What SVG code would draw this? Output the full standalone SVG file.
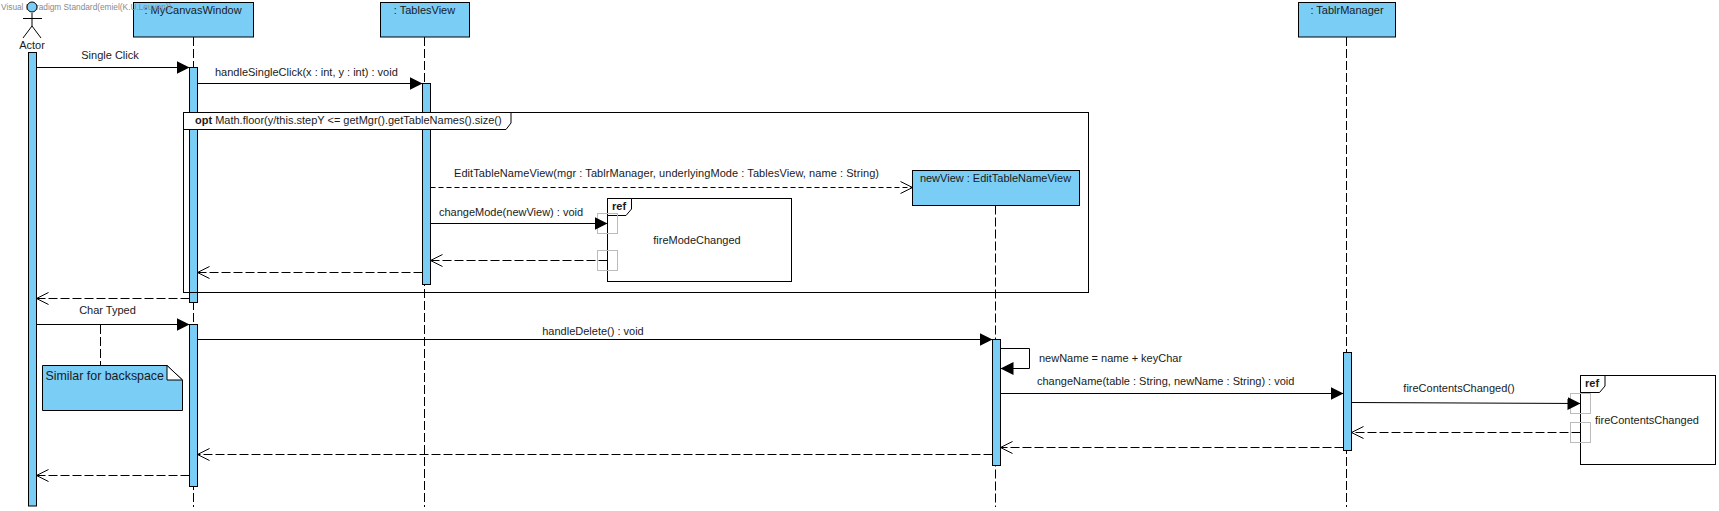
<svg xmlns="http://www.w3.org/2000/svg" width="1719" height="511" viewBox="0 0 1719 511">
<style>
text{font-family:"Liberation Sans",Arial,sans-serif;font-size:11px;fill:#1a1a1a}
.m{text-anchor:middle}
.b{font-weight:bold}
.box,.act{fill:#7acdf5;stroke:#000;stroke-width:1}
.life{stroke:#000;stroke-width:1;stroke-dasharray:9 3;fill:none}
.call{stroke:#000;stroke-width:1;fill:none;marker-end:url(#filled)}
.ret{stroke:#000;stroke-width:1;stroke-dasharray:9 3;fill:none;marker-end:url(#open)}
.frame{fill:none;stroke:#000;stroke-width:1}
.hdr{fill:#fff;stroke:#000;stroke-width:1}
.port{fill:none;stroke:#bbb;stroke-width:1}
.ln{fill:none;stroke:#000;stroke-width:1}
</style>
<defs>
<marker id="filled" markerUnits="userSpaceOnUse" markerWidth="14" markerHeight="16" refX="13" refY="8" orient="auto"><path d="M0 1.500L13 8L0 14.500Z" fill="#000"/></marker>
<marker id="open" markerUnits="userSpaceOnUse" markerWidth="14" markerHeight="14" refX="13" refY="7" orient="auto"><path d="M1 1L13 7L1 13" fill="none" stroke="#000" stroke-width="1"/></marker>
</defs>
<rect width="1719" height="511" fill="#fff"/>
<g id="lifelines">
<path class="life" d="M193.500 37V507"/>
<path class="life" d="M424.500 37V507"/>
<path class="life" d="M995.500 205.500V507"/>
<path class="life" d="M1346.500 37V507"/>
</g>
<g id="canvas-window">
<rect class="box" x="133.500" y="2.500" width="120" height="34.500"/>
<text class="m" x="193" y="14">: MyCanvasWindow</text>
<rect class="act" x="189.500" y="67.500" width="8" height="235"/>
<rect class="act" x="189.500" y="324.500" width="8" height="162"/>
</g>
<g id="tables-view">
<rect class="box" x="380.500" y="2.500" width="89" height="34.500"/>
<text class="m" x="424.500" y="14">: TablesView</text>
<rect class="act" x="422.500" y="83.500" width="8" height="201"/>
</g>
<g id="edit-view">
<rect class="box" x="912.500" y="170.500" width="167" height="35"/>
<text class="m" x="995.500" y="182">newView : EditTableNameView</text>
<rect class="act" x="992.500" y="339.500" width="8" height="126"/>
</g>
<g id="manager">
<rect class="box" x="1298.500" y="2.500" width="97" height="34.500"/>
<text class="m" x="1347" y="14">: TablrManager</text>
<rect class="act" x="1343.500" y="352.500" width="8" height="98"/>
</g>
<g id="opt-frame">
<rect class="frame" x="183.500" y="112.500" width="905" height="180"/>
<path class="hdr" d="M183.500 112.500H511V123L506 129.500H183.500Z"/>
<text x="195" y="124"><tspan class="b">opt</tspan> Math.floor(y/this.stepY &lt;= getMgr().getTableNames().size()</text>
</g>
<g id="ref-mode">
<rect class="frame" x="607.500" y="198.500" width="184" height="83"/>
<path class="hdr" d="M607.500 198.500H631.500V209L626 215.500H607.500Z"/>
<text class="b" x="612" y="210">ref</text>
<text class="m" x="697" y="244">fireModeChanged</text>
<rect class="port" x="597.500" y="213.500" width="20" height="20"/>
<rect class="port" x="597.500" y="250.500" width="20" height="20"/>
</g>
<g id="ref-contents">
<rect class="frame" x="1580.500" y="375.500" width="135" height="89"/>
<path class="hdr" d="M1580.500 375.500H1605V386L1599.500 392.500H1580.500Z"/>
<text class="b" x="1585" y="387">ref</text>
<text x="1595" y="424">fireContentsChanged</text>
<rect class="port" x="1570.500" y="393.500" width="20" height="20"/>
<rect class="port" x="1570.500" y="422.500" width="20" height="20"/>
</g>
<g id="note">
<path class="act" d="M42.500 365.500H167L182.500 380V410.500H42.500Z"/>
<path d="M167 365.500L182.500 380H167Z" fill="#fff" stroke="#000"/>
<text x="45.500" y="380" style="font-size:12.400px">Similar for backspace</text>
</g>
<g id="connectors">
<path class="call" d="M36.500 67.500H189.500"/>
<path class="call" d="M197.500 83.500H422.500"/>
<path class="ret" style="stroke-dasharray:5 3" d="M430.500 187.500H912.500"/>
<path class="call" d="M430.500 223.500H607.500"/>
<path class="ret" d="M607.500 260.500H430.500"/>
<path class="ret" d="M422.500 272.500H197.500"/>
<path class="ret" d="M189.500 298.500H36.500"/>
<path class="call" d="M36.500 324.500H189.500"/>
<path class="life" d="M100.500 325V365.500"/>
<path class="call" d="M197.500 339.500H992.500"/>
<path class="call" d="M1000.500 348.500H1029.500V368.500H1000.500"/>
<path class="call" d="M1000.500 393.500H1343.500"/>
<path class="call" d="M1351.500 402.500L1580.500 403.500"/>
<path class="ret" d="M1580.500 432.500H1351.500"/>
<path class="ret" d="M1343.500 447.500H1000.500"/>
<path class="ret" d="M992.500 454.500H197.500"/>
<path class="ret" d="M189.500 475.500H36.500"/>
</g>
<g id="labels">
<text class="m" x="110" y="59">Single Click</text>
<text x="215" y="76">handleSingleClick(x : int, y : int) : void</text>
<text x="454" y="177" textLength="425">EditTableNameView(mgr : TablrManager, underlyingMode : TablesView, name : String)</text>
<text x="439" y="216">changeMode(newView) : void</text>
<text class="m" x="107.500" y="314">Char Typed</text>
<text class="m" x="593" y="335">handleDelete() : void</text>
<text x="1039" y="362">newName = name + keyChar</text>
<text x="1037" y="385">changeName(table : String, newName : String) : void</text>
<text class="m" x="1459" y="392">fireContentsChanged()</text>
</g>
<text x="1" y="10" style="font-size:8.300px;fill:#8a8a8a">Visual Paradigm Standard(emiel(K.U.Leuven))</text>
<g id="actor">
<path class="ln" d="M32 13V26M23 18.500H42M23 38L32 26L41 38"/>
<circle cx="32" cy="7" r="5" fill="#7acdf5" stroke="#000"/>
<text class="m" x="32" y="49">Actor</text>
<rect class="act" x="28.500" y="52.500" width="8" height="453.500"/>
</g>
</svg>
